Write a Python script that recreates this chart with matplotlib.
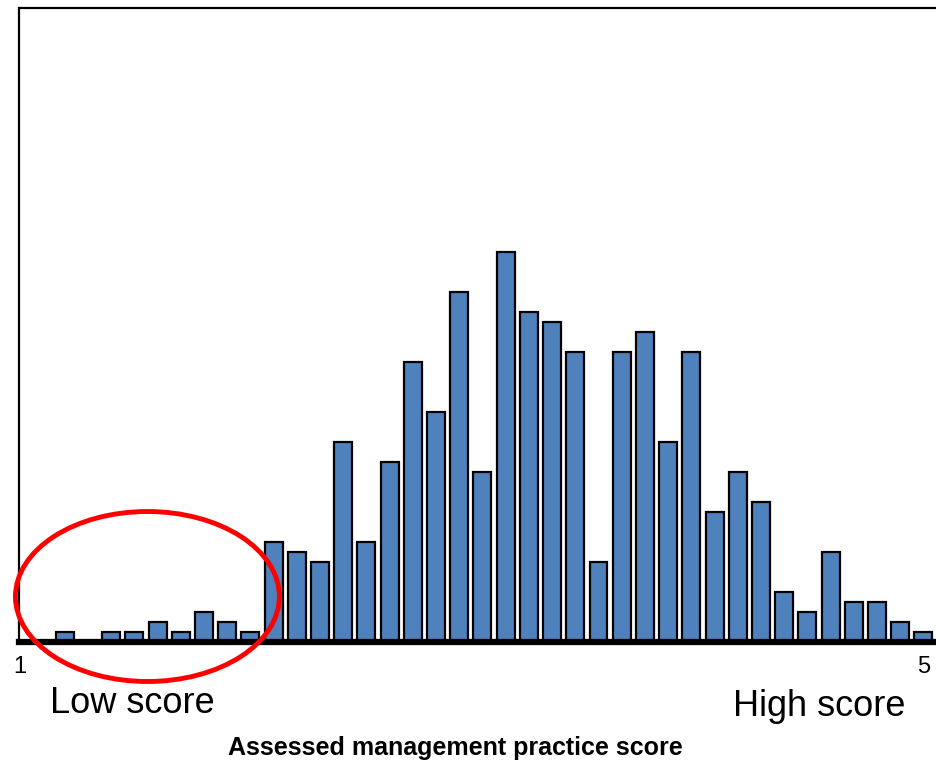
import numpy as np
import matplotlib
matplotlib.use('Agg')
import matplotlib.pyplot as plt
from matplotlib.patches import Ellipse

plt.rcParams['font.family'] = ['Liberation Sans', 'DejaVu Sans']

# 每个分数段的企业数量 (从 1.2 到 5.0)
counts = [1, 0, 1, 1, 2, 1, 3, 2, 1, 10, 9, 8, 20, 10, 18, 28, 23, 35, 17, 39,
          33, 32, 29, 8, 29, 31, 20, 29, 13, 17, 14, 5, 3, 9, 4, 4, 2, 1]
score_min, score_max = 1.2, 5.0
tick_pos = [1, 5]
tick_labels = ['1', '5']

bin_centers = np.linspace(score_min, score_max, len(counts))

fig = plt.figure(figsize=(9.37, 7.64), dpi=100)
ax = fig.add_axes([19.5 / 937, 122 / 764, (937 - 19.5) / 937, 634 / 764])

# 柱状图
ax.bar(bin_centers, counts, width=0.0795, color='#4F81BD', edgecolor='black',
       linewidth=1.6, zorder=2)

# 粗的底线
ax.axhline(0, color='black', linewidth=4.5, zorder=3, clip_on=False)

ax.set_xlim(1, 5.06)
ax.set_ylim(0, 63.4)

ax.spines['right'].set_visible(False)
ax.spines['bottom'].set_visible(False)
ax.spines['left'].set_linewidth(1.6)
ax.spines['top'].set_linewidth(1.6)

ax.set_yticks([])
ax.set_xticks(tick_pos)
ax.set_xticklabels(tick_labels, fontsize=17)
ax.tick_params(axis='x', length=0, pad=10)

# 低分区域的红色椭圆
ell = Ellipse((1.566, 4.55), width=1.168, height=17.0, fill=False,
              edgecolor='#FF0000', linewidth=3.5, zorder=4, clip_on=False)
ax.add_patch(ell)

fig.text(50 / 937, (764 - 713) / 764, 'Low score', fontsize=26, va='baseline', ha='left')
fig.text(733 / 937, (764 - 716) / 764, 'High score', fontsize=26, va='baseline', ha='left')
fig.text(455 / 937, (764 - 755) / 764, 'Assessed management practice score',
         fontsize=18, fontweight='bold', va='baseline', ha='center')

plt.savefig('out.png', dpi=100)
